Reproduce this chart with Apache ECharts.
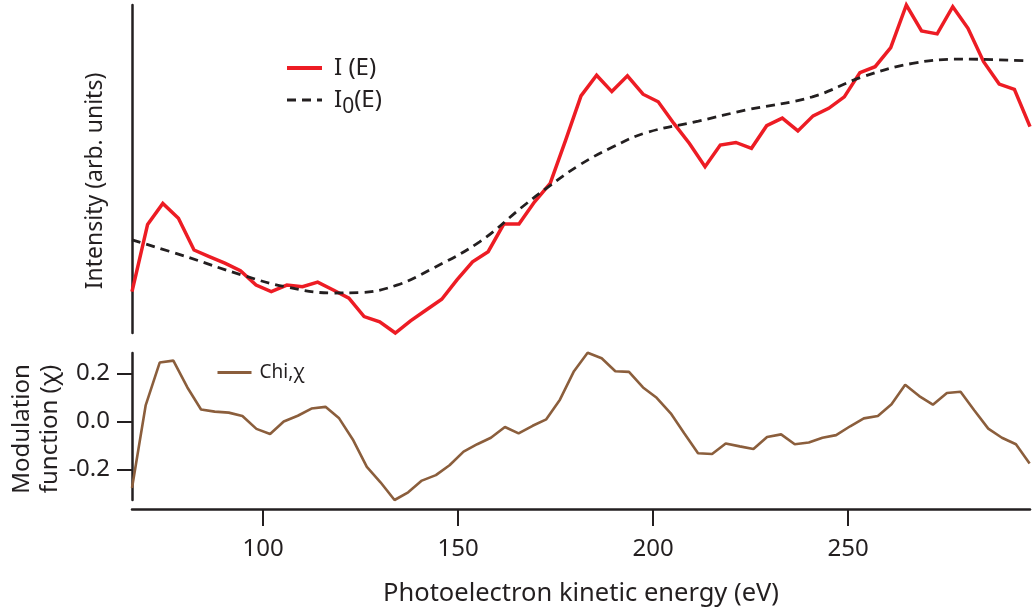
<!DOCTYPE html>
<html>
<head>
<meta charset="utf-8">
<title>Photoelectron intensity and modulation function</title>
<script src="https://cdn.jsdelivr.net/npm/echarts@6/dist/echarts.min.js"></script>
<style>
  html, body { margin: 0; padding: 0; background: #ffffff; }
  #chart { width: 1036px; height: 608px; }
</style>
</head>
<body>
<div id="chart"></div>
<script>
// Measured spectrum I(E), photoelectron kinetic energy in eV
const energyI = [66.4, 70.4, 74.3, 78.3, 82.3, 86.2, 90.2, 94.2, 98.2, 102.1,
  106.1, 110.1, 114.0, 118.0, 122.0, 125.9, 129.9, 133.9, 137.8, 141.8,
  145.8, 149.7, 153.7, 157.7, 161.7, 165.6, 169.6, 173.6, 177.5, 181.5,
  185.5, 189.4, 193.4, 197.4, 201.3, 205.3, 209.3, 213.3, 217.2, 221.2,
  225.2, 229.1, 233.1, 237.1, 241.0, 245.0, 249.0, 253.0, 256.9, 260.9,
  264.9, 268.8, 272.8, 276.8, 280.7, 284.7, 288.7, 292.6, 296.6];
const intensityI = [12.6, 33.1, 39.5, 35.0, 25.3, 23.3, 21.3, 19.0, 14.6, 12.6,
  14.6, 14.1, 15.5, 13.1, 10.6, 5.0, 3.4, 0.0, 3.7, 7.0,
  10.3, 16.2, 21.7, 24.8, 33.2, 33.2, 40.0, 45.6, 58.6, 72.3,
  78.6, 73.6, 78.4, 72.8, 70.5, 63.9, 57.8, 50.7, 57.3, 58.1,
  56.3, 63.2, 65.5, 61.6, 66.2, 68.5, 72.0, 79.4, 81.2, 87.0,
  100.0, 92.1, 91.2, 99.5, 92.9, 82.7, 75.9, 74.3, 62.9];

// Smooth atomic background I0(E)
const energyI0 = [66.4, 80.5, 94.5, 106.1, 117.9, 124.8, 134.3, 142.7, 155.5, 166.5,
  172.7, 181.1, 189.6, 198.3, 211.6, 223.9, 240.8, 253.7, 266.5, 279.3, 295.7];
const intensityI0 = [28.4, 23.2, 17.7, 14.0, 12.2, 12.3, 14.6, 19.2, 27.8, 38.5,
  44.2, 51.2, 56.7, 61.1, 64.6, 68.0, 72.0, 78.1, 82.2, 83.5, 83.0];

// Modulation function chi(E)
const energyChi = [66.4, 69.9, 73.5, 77.0, 80.6, 84.1, 87.6, 91.2, 94.7, 98.3,
  101.8, 105.3, 108.9, 112.4, 116.0, 119.5, 123.0, 126.6, 130.1, 133.7,
  137.2, 140.7, 144.3, 147.8, 151.4, 154.9, 158.4, 162.0, 165.5, 169.1,
  172.6, 176.1, 179.7, 183.2, 186.8, 190.3, 193.8, 197.4, 200.9, 204.5,
  208.0, 211.5, 215.1, 218.6, 222.2, 225.7, 229.2, 232.8, 236.3, 239.9,
  243.4, 246.9, 250.5, 254.0, 257.6, 261.1, 264.6, 268.2, 271.7, 275.3,
  278.8, 282.3, 285.9, 289.4, 293.0, 296.5];
const chiValues = [-0.278, 0.067, 0.246, 0.254, 0.142, 0.050, 0.041, 0.037, 0.023, -0.031,
  -0.052, 0.000, 0.024, 0.054, 0.061, 0.013, -0.075, -0.190, -0.254, -0.328,
  -0.296, -0.247, -0.224, -0.183, -0.126, -0.095, -0.068, -0.023, -0.050, -0.018,
  0.009, 0.091, 0.210, 0.287, 0.264, 0.210, 0.207, 0.142, 0.099, 0.034,
  -0.050, -0.133, -0.136, -0.092, -0.104, -0.115, -0.065, -0.054, -0.095, -0.088,
  -0.068, -0.057, -0.020, 0.013, 0.023, 0.072, 0.153, 0.106, 0.070, 0.119,
  0.124, 0.047, -0.030, -0.068, -0.095, -0.176];

const xTicks = [100, 150, 200, 250];
const chiTicks = [-0.2, 0.0, 0.2];

const pairs = (xs, ys) => xs.map((x, i) => [x, ys[i]]);

const FONT = '"Noto Sans", "Open Sans", sans-serif';
const INK = '#231f20';
const RED = '#ed1c24';
const BROWN = '#8b5e3c';
const E_MIN = 66.4, E_MAX = 296.6;

const chart = echarts.init(document.getElementById('chart'), null, { renderer: 'canvas' });

chart.setOption({
  animation: false,
  backgroundColor: '#ffffff',
  textStyle: { fontFamily: FONT, color: INK },
  grid: [
    { left: 132, right: 6, top: 5, height: 328 },
    { left: 132, right: 6, top: 353, height: 151 }
  ],
  legend: [
    {
      orient: 'vertical',
      left: 285,
      top: 56,
      padding: 0,
      itemWidth: 35,
      itemHeight: 14,
      itemGap: 8,
      data: [
        { name: 'I (E)', lineStyle: { width: 4 } },
        { name: 'I0(E)', lineStyle: { width: 3 } }
      ],
      formatter: name => name === 'I0(E)' ? 'I{sub|0}(E)' : name,
      itemStyle: { opacity: 0 },
      textStyle: {
        fontFamily: FONT, fontSize: 24, color: INK, padding: [0, 0, 0, 7],
        rich: { sub: { fontFamily: FONT, fontSize: 21, color: INK, padding: [14, 0, 0, 0] } }
      }
    },
    {
      left: 216,
      top: 363,
      padding: 0,
      itemWidth: 34,
      itemHeight: 14,
      data: [{ name: 'Chi,χ', lineStyle: { width: 3 } }],
      itemStyle: { opacity: 0 },
      textStyle: { fontFamily: FONT, fontSize: 19, color: INK, padding: [0, 0, 0, 3] }
    }
  ],
  xAxis: [
    {
      gridIndex: 0, type: 'value', min: E_MIN, max: E_MAX, show: false
    },
    {
      gridIndex: 1, type: 'value', min: E_MIN, max: E_MAX,
      offset: 9,
      axisLine: { show: true, onZero: false, lineStyle: { color: INK, width: 2.5 } },
      axisTick: { show: true, length: 17, customValues: xTicks, lineStyle: { color: INK, width: 2 } },
      axisLabel: {
        customValues: xTicks, margin: 28, fontSize: 24, color: INK, fontFamily: FONT
      },
      splitLine: { show: false },
      name: 'Photoelectron kinetic energy (eV)',
      nameLocation: 'middle',
      nameGap: 72,
      nameTextStyle: { fontSize: 25.5, color: INK, fontFamily: FONT }
    }
  ],
  yAxis: [
    {
      gridIndex: 0, type: 'value', min: 0, max: 100,
      axisLine: { show: true, onZero: false, lineStyle: { color: INK, width: 2.5 } },
      axisTick: { show: false },
      axisLabel: { show: false },
      splitLine: { show: false }
    },
    {
      gridIndex: 1, type: 'value', min: -0.328, max: 0.286,
      axisLine: { show: true, onZero: false, lineStyle: { color: INK, width: 2.5 } },
      axisTick: { show: true, length: 15, customValues: chiTicks, lineStyle: { color: INK, width: 2 } },
      axisLabel: {
        customValues: chiTicks, margin: 22, fontSize: 24, color: INK, fontFamily: FONT,
        formatter: v => v.toFixed(1)
      },
      splitLine: { show: false }
    }
  ],
  graphic: [
    {
      type: 'text', x: 95, y: 181, rotation: Math.PI / 2,
      style: {
        text: 'Intensity (arb. units)', fill: INK, font: '23px ' + FONT,
        align: 'center', verticalAlign: 'middle'
      }
    },
    {
      type: 'text', x: 36, y: 429, rotation: Math.PI / 2,
      style: {
        text: 'Modulation\nfunction (χ)', fill: INK, font: '24px ' + FONT,
        align: 'center', verticalAlign: 'middle', lineHeight: 28
      }
    }
  ],
  series: [
    {
      name: 'I (E)', type: 'line', xAxisIndex: 0, yAxisIndex: 0,
      data: pairs(energyI, intensityI),
      symbol: 'none', clip: false, z: 3,
      lineStyle: { color: RED, width: 3.5, join: 'miter' },
      itemStyle: { color: RED }
    },
    {
      name: 'I0(E)', type: 'line', xAxisIndex: 0, yAxisIndex: 0,
      data: pairs(energyI0, intensityI0),
      symbol: 'none', smooth: 0.4, clip: false, z: 4,
      lineStyle: { color: INK, width: 2.8, type: [9, 6] },
      itemStyle: { color: INK }
    },
    {
      name: 'Chi,χ', type: 'line', xAxisIndex: 1, yAxisIndex: 1,
      data: pairs(energyChi, chiValues),
      symbol: 'none', clip: false,
      lineStyle: { color: BROWN, width: 2.6 },
      itemStyle: { color: BROWN }
    }
  ]
});
</script>
</body>
</html>
